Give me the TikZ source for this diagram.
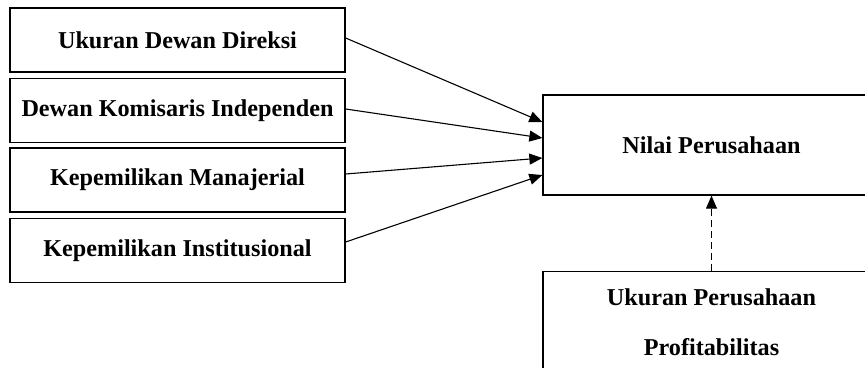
\documentclass[tikz,border=0pt]{standalone}
\usepackage{fontspec}
\setmainfont{Liberation Serif}
\usetikzlibrary{arrows.meta}
\begin{document}
\begin{tikzpicture}[x=1pt,y=-1pt,
  lbl/.style={font=\fontsize{24.2}{28}\selectfont\bfseries, inner sep=0pt},
  box/.style={draw, line width=1.3pt, minimum width=335pt, minimum height=64pt, inner sep=0pt, lbl},
  rbox/.style={draw, line width=1.3pt, minimum width=337pt, inner sep=0pt, lbl},
  arr/.style={line width=1.1pt, -{Triangle[length=13pt,width=11pt]}}]
\clip (0,0) rectangle (865,367);
\node[box] (d1) at (177.5,40) {Ukuran Dewan Direksi};
\node[box] (d2) at (177.5,110.5) {Dewan Komisaris Independen};
\node[box] (d3) at (177.5,180) {Kepemilikan Manajerial};
\node[box] (d4) at (177.5,250.5) {Kepemilikan Institusional};
\node[rbox, minimum height=100pt] (nilai) at (711.5,145) {Nilai Perusahaan};
\node[rbox, minimum height=150pt, anchor=north] (mod) at (711.5,271) {};
\node[lbl] (t1) at (711.5,297) {Ukuran Perusahaan};
\node[lbl] (t2) at (711.5,347) {Profitabilitas};
\draw[arr] ([yshift=2pt]d1.east) -- ([yshift=23pt]nilai.west);
\draw[arr] ([yshift=1.5pt]d2.east) -- ([yshift=7pt]nilai.west);
\draw[arr] ([yshift=6pt]d3.east) -- ([yshift=-13pt]nilai.west);
\draw[arr] ([yshift=8.5pt]d4.east) -- ([yshift=-30pt]nilai.west);
\draw[arr, dash pattern=on 7pt off 4pt] (mod.north) -- (nilai.south);
\end{tikzpicture}
\end{document}
